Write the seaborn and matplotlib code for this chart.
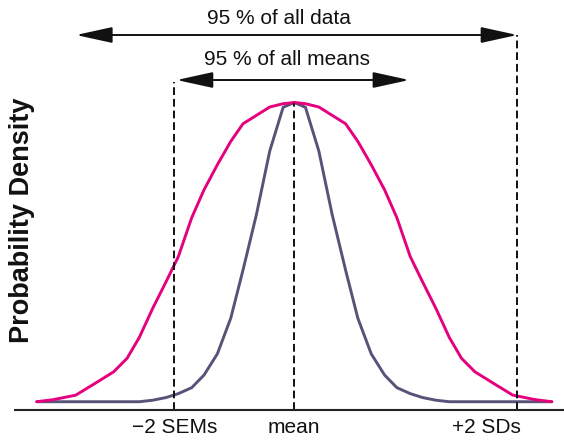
import matplotlib
matplotlib.use("Agg")
import matplotlib.pyplot as plt
import seaborn as sns
import pandas as pd
from matplotlib import transforms

# x in units of one SD (mean = 0), density scaled so the peak is 1
sd_x = [-2.31, -2.16, -1.96, -1.81, -1.62, -1.50, -1.39, -1.27, -1.15, -1.04,
        -0.92, -0.81, -0.69, -0.57, -0.46, -0.34, -0.22, -0.10, 0.00,
        0.10, 0.22, 0.34, 0.46, 0.57, 0.69, 0.81, 0.92, 1.04, 1.15,
        1.27, 1.39, 1.50, 1.62, 1.81, 1.96, 2.16, 2.31]
sd_density = [0.000, 0.007, 0.022, 0.056, 0.100, 0.145, 0.215, 0.312, 0.401, 0.485,
              0.615, 0.708, 0.792, 0.870, 0.929, 0.957, 0.985, 0.996, 1.000,
              0.996, 0.985, 0.957, 0.929, 0.870, 0.792, 0.708, 0.615, 0.485, 0.401,
              0.312, 0.215, 0.145, 0.100, 0.056, 0.022, 0.007, 0.000]

sem_x = [-2.31, -1.39, -1.27, -1.15, -1.04, -0.92, -0.81, -0.69, -0.57, -0.46,
         -0.34, -0.22, -0.10, 0.00, 0.10, 0.22, 0.34, 0.46, 0.57,
         0.69, 0.81, 0.92, 1.04, 1.15, 1.27, 1.39, 2.31]
sem_density = [0.000, 0.000, 0.005, 0.014, 0.027, 0.047, 0.089, 0.160, 0.279, 0.440,
               0.625, 0.838, 0.984, 1.000, 0.984, 0.838, 0.625, 0.440, 0.279,
               0.160, 0.089, 0.047, 0.027, 0.014, 0.005, 0.000, 0.000]

sem = 0.538  # one SEM in SD units
tick_pos = [-2 * sem, 0, 2]
tick_labels = ["\u22122 SEMs", "mean", "+2 SDs"]
data_label = "95 % of all data"
means_label = "95 % of all means"

df = pd.concat([
    pd.DataFrame({"x": sem_x, "density": sem_density, "curve": "means"}),
    pd.DataFrame({"x": sd_x, "density": sd_density, "curve": "data"}),
])

sns.set_style("white")
plt.rcParams["font.family"] = ["Liberation Sans", "DejaVu Sans"]

fig = plt.figure(figsize=(5.64, 4.40), dpi=100)
ax = fig.add_axes([0, 30.5 / 440, 1, 409.5 / 440])

sns.lineplot(df, x="x", y="density", hue="curve", hue_order=["means", "data"],
             palette={"means": "#585279", "data": "#e5007e"},
             lw=2.1, legend=False, ax=ax)

ax.set_xlim(-2.6395, 2.419)
ax.set_ylim(-0.026, 1.3426)

for s in ["left", "top", "right"]:
    ax.spines[s].set_visible(False)
ax.spines["bottom"].set_bounds(-2.505, 2.419)
ax.spines["bottom"].set_linewidth(1.5)
ax.spines["bottom"].set_color("#222222")

# dashed markers
ax.vlines(tick_pos, ymin=-0.026, ymax=[1.0695, 1.0, 1.2256],
          colors="#111111", linestyles=(0, (4, 2)), lw=1.4)

# arrows
arrow_kw = dict(arrowstyle="<|-|>,head_length=1.6,head_width=0.35",
                mutation_scale=14, lw=1.4, color="#111111",
                shrinkA=0, shrinkB=0)
ax.annotate("", xy=(2.0, 1.2256), xytext=(-1.958, 1.2256), arrowprops=arrow_kw)
ax.annotate("", xy=(1.031, 1.0752), xytext=(-1.055, 1.0752), arrowprops=arrow_kw)
ax.text(-0.135, 1.262, data_label, ha="center", va="baseline", fontsize=15, color="#111111")
ax.text(-0.068, 1.125, means_label, ha="center", va="baseline", fontsize=15, color="#111111")

ax.set_xticks(tick_pos)
ax.set_xticklabels(tick_labels)
ax.tick_params(axis="x", length=0, pad=6, labelsize=15, labelcolor="#111111")
ax.set_yticks([])
lbl = ax.get_xticklabels()[2]
lbl.set_horizontalalignment("right")
lbl.set_transform(lbl.get_transform() + transforms.ScaledTranslation(3.5 / 100, 0, fig.dpi_scale_trans))

ax.set_xlabel("")
ax.set_ylabel("Probability Density", fontsize=19.5, fontweight="bold", va="center", color="#111111")
ax.yaxis.set_label_coords(0.039, 0.463)

fig.savefig("out.png", dpi=100)
